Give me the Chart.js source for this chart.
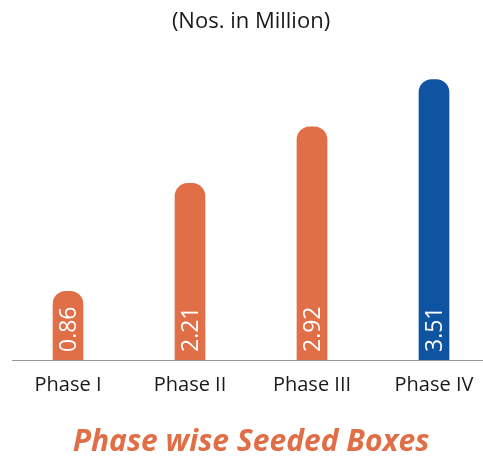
<!DOCTYPE html>
<html>
<head>
<meta charset="utf-8">
<script src="https://cdn.jsdelivr.net/npm/chart.js@4/dist/chart.umd.min.js"></script>
<style>
  html, body { margin: 0; padding: 0; background: #fff; }
  #chart { display: block; }
</style>
</head>
<body>
<canvas id="chart" width="483" height="460"></canvas>
<script>
// data
const categories = ['Phase I', 'Phase II', 'Phase III', 'Phase IV'];
const seededBoxes = [0.86, 2.21, 2.92, 3.51];
const barColors = ['#E06E46', '#E06E46', '#E06E46', '#0E54A0'];

const chartTitle = '(Nos. in Million)';
const bottomTitle = 'Phase wise Seeded Boxes';

// thin base line that runs past the plot area like in the picture
const baseLine = {
    id: 'baseLine',
    afterDatasetsDraw(chart) {
        const ctx = chart.ctx;
        const y = Math.round(chart.scales.y.getPixelForValue(0)) + 0.5;
        ctx.save();
        ctx.strokeStyle = '#9a9a9a';
        ctx.lineWidth = 1;
        ctx.beginPath();
        ctx.moveTo(12, y);
        ctx.lineTo(chart.width, y);
        ctx.stroke();
        ctx.restore();
    }
};

// values written upward inside each bar
const barValues = {
    id: 'barValues',
    afterDatasetsDraw(chart) {
        const ctx = chart.ctx;
        const meta = chart.getDatasetMeta(0);
        meta.data.forEach((bar, i) => {
            ctx.save();
            ctx.translate(bar.x, bar.base - 8);
            ctx.rotate(-Math.PI / 2);
            ctx.fillStyle = '#ffffff';
            ctx.font = '500 23px "Open Sans"';
            ctx.textAlign = 'left';
            ctx.textBaseline = 'middle';
            ctx.fillText(seededBoxes[i].toFixed(2), 0, 1);
            ctx.restore();
        });
    }
};

new Chart(document.getElementById('chart'), {
    type: 'bar',
    data: {
        labels: categories,
        datasets: [{
            data: seededBoxes,
            backgroundColor: barColors,
            barThickness: 30,
            borderRadius: 13,
            borderSkipped: 'start',
            clip: false
        }]
    },
    options: {
        responsive: false,
        animation: false,
        layout: {
            padding: { left: 68, right: 49, top: 0, bottom: 0 }
        },
        scales: {
            x: {
                offset: false,
                grid: { display: false },
                border: { display: false },
                ticks: {
                    color: '#1a1a1a',
                    font: { family: 'Open Sans', size: 20 },
                    padding: 5,
                    maxRotation: 0
                }
            },
            y: {
                display: false,
                min: 0,
                max: 3.8
            }
        },
        plugins: {
            legend: { display: false },
            tooltip: { enabled: false },
            title: {
                display: true,
                text: chartTitle,
                color: '#1a1a1a',
                font: { family: 'Open Sans', size: 22, weight: 'normal' },
                padding: { top: 9, bottom: 21 }
            },
            subtitle: {
                display: true,
                position: 'bottom',
                text: bottomTitle,
                color: '#E06E46',
                font: { family: 'Open Sans', size: 30, weight: 'bold', style: 'italic' },
                padding: { top: 22, bottom: 0 }
            }
        }
    },
    plugins: [baseLine, barValues]
});
</script>
</body>
</html>
